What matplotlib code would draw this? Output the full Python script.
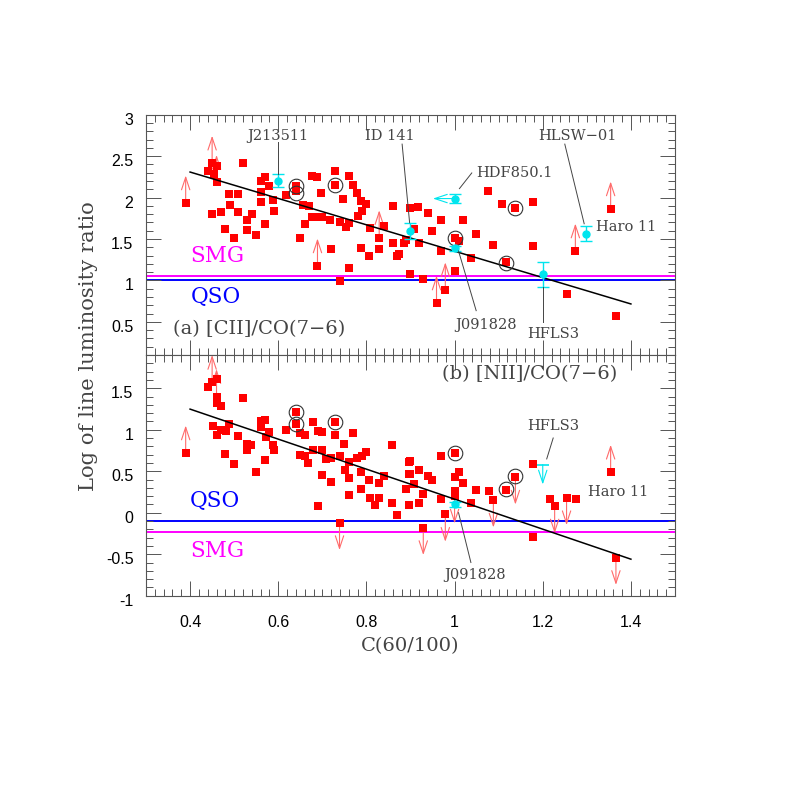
import numpy as np
import matplotlib
matplotlib.use('Agg')
import matplotlib.pyplot as plt
from matplotlib.ticker import MultipleLocator, FuncFormatter
from matplotlib.transforms import ScaledTranslation

plt.rcParams['axes.unicode_minus'] = False

# ---- panel (a) [CII]/CO(7-6): detections (red squares)
cii_x = [0.440, 0.460, 0.454, 0.519, 0.449, 0.470, 0.489, 0.508, 0.480, 0.500,
         0.490, 0.509, 0.528, 0.541, 0.530, 0.549, 0.569, 0.560, 0.569, 0.560,
         0.560, 0.588, 0.590, 0.578, 0.617, 0.640, 0.640, 0.649, 0.656, 0.660,
         0.669, 0.676, 0.687, 0.697, 0.676, 0.688, 0.700, 0.720, 0.729, 0.729,
         0.718, 0.739, 0.748, 0.760, 0.769, 0.778, 0.788, 0.800, 0.790, 0.781,
         0.760, 0.754, 0.760, 0.740, 0.788, 0.807, 0.809, 0.829, 0.840, 0.860,
         0.860, 0.869, 0.886, 0.899, 0.918, 0.939, 0.969, 1.018, 0.949, 0.909,
         0.889, 0.919, 0.875, 0.969, 1.000, 1.009, 1.037, 1.048, 1.088, 1.076,
         1.108, 1.138, 1.177, 1.177, 1.117, 0.899, 0.928, 1.000, 1.254, 1.366]
cii_y = [2.324, 2.376, 2.288, 2.412, 1.796, 1.824, 2.044, 2.044, 1.616, 1.516,
         1.916, 1.828, 1.724, 1.796, 1.604, 1.548, 1.684, 2.196, 2.244, 2.068,
         1.948, 1.976, 1.836, 2.136, 2.036, 2.144, 2.076, 1.508, 1.916, 1.684,
         1.896, 2.256, 2.244, 2.056, 1.760, 1.764, 1.760, 1.376, 2.324, 2.148,
         1.724, 1.708, 1.984, 2.256, 2.156, 2.056, 1.956, 1.924, 1.836, 1.776,
         1.696, 1.644, 1.156, 0.996, 1.396, 1.296, 1.628, 1.376, 1.656, 1.896,
         1.456, 1.296, 1.456, 1.876, 1.888, 1.816, 1.724, 1.724, 1.596, 1.616,
         1.488, 1.456, 1.316, 1.356, 1.516, 1.476, 1.268, 1.556, 1.428, 2.084,
         1.924, 1.876, 1.948, 1.416, 1.228, 1.076, 1.016, 1.108, 0.836, 0.576]
# lower limits (arrow up)
cii_lo_x = [0.390, 0.450, 0.460, 0.689, 0.829, 0.959, 0.979, 1.274, 1.354]
cii_lo_y = [1.936, 2.416, 2.184, 1.176, 1.516, 0.728, 0.888, 1.356, 1.864]
# circled sources
cii_circ_x = [0.640, 0.641, 0.729, 1.000, 1.138, 1.117]
cii_circ_y = [2.144, 2.056, 2.148, 1.516, 1.876, 1.216]
cii_fit_x = [0.4, 1.4]
cii_fit_y = [2.308, 0.716]
cii_smg, cii_qso = 1.052, 1.008

# ---- panel (b) [NII]/CO(7-6)
nii_x = [0.441, 0.460, 0.460, 0.470, 0.451, 0.460, 0.470, 0.481, 0.489, 0.479,
         0.499, 0.509, 0.519, 0.528, 0.539, 0.530, 0.549, 0.560, 0.569, 0.560,
         0.569, 0.579, 0.572, 0.588, 0.590, 0.618, 0.640, 0.640, 0.649, 0.660,
         0.649, 0.660, 0.667, 0.679, 0.679, 0.690, 0.700, 0.700, 0.700, 0.719,
         0.690, 0.709, 0.720, 0.729, 0.729, 0.739, 0.749, 0.751, 0.760, 0.760,
         0.760, 0.769, 0.779, 0.790, 0.800, 0.788, 0.788, 0.807, 0.809, 0.819,
         0.829, 0.829, 0.839, 0.858, 0.858, 0.869, 0.889, 0.896, 0.896, 0.896,
         0.899, 0.899, 0.909, 0.919, 0.919, 0.929, 0.939, 0.949, 0.969, 0.969,
         1.000, 1.000, 1.009, 1.018, 1.000, 1.037, 1.048, 1.077, 1.117, 1.177,
         1.177, 1.217, 1.275]
nii_y = [1.520, 1.608, 1.320, 1.288, 1.040, 0.940, 1.000, 0.980, 1.072, 0.712,
         0.592, 0.928, 1.380, 0.828, 0.820, 0.760, 0.488, 1.100, 1.120, 1.032,
         0.640, 0.968, 0.912, 0.820, 0.760, 0.992, 1.208, 1.072, 0.960, 0.940,
         0.700, 0.680, 0.600, 0.760, 1.088, 0.988, 0.968, 0.760, 0.460, 0.368,
         0.080, 0.648, 0.660, 1.088, 0.940, 0.688, 0.832, 0.520, 0.608, 0.420,
         0.208, 0.960, 0.660, 0.688, 0.728, 0.488, 0.280, 0.400, 0.180, 0.088,
         0.180, 0.352, 0.448, 0.820, 0.120, -0.028, 0.280, 0.608, 0.472, 0.088,
         0.620, 0.468, 0.340, 0.520, 0.112, 0.220, 0.448, 0.400, 0.680, 0.160,
         0.720, 0.428, 0.488, 0.352, 0.260, 0.112, 0.272, 0.260, 0.272, 0.592,
         -0.288, 0.160, 0.160]
nii_lo_x = [0.390, 0.450, 0.460, 1.354]
nii_lo_y = [0.720, 1.570, 1.400, 0.488]
# upper limits (arrow down)
nii_up_x = [0.739, 0.929, 0.979, 1.000, 1.088, 1.138, 1.227, 1.254, 1.366]
nii_up_y = [-0.120, -0.180, -0.020, 0.200, 0.152, 0.428, 0.080, 0.180, -0.540]
nii_circ_x = [0.640, 0.640, 0.729, 1.000, 1.117, 1.138]
nii_circ_y = [1.208, 1.072, 1.088, 0.720, 0.280, 0.440]
nii_fit_x = [0.4, 1.4]
nii_fit_y = [1.248, -0.560]
nii_smg, nii_qso = -0.232, -0.100

# ---- high-z sources (cyan)
hz_x = [0.600, 0.899, 1.000, 1.000, 1.200, 1.299]
hz_cii = [2.204, 1.596, 1.988, 1.388, 1.076, 1.564]
hz_cii_err = [0.076, 0.096, 0.050, 0.030, 0.150, 0.090]
j0918_nii, j0918_nii_err = 0.100, 0.030
hfls3_nii_lim = 0.580

red = '#ff0000'
arrow_col = '#ff6a6a'
txt_col = '#444444'
ax_col = '#555555'
serif = 'DejaVu Serif'
alen = 0.33

fig = plt.figure(figsize=(7.89, 7.89), dpi=100)
ax1 = fig.add_axes([0.18504, 0.55006, 0.67047, 0.30456])
ax2 = fig.add_axes([0.18504, 0.24499, 0.67047, 0.30507])


def arrow(ax, x, y, dy=0.0, dx=0.0, col=arrow_col):
    ax.annotate('', xy=(x + dx, y + dy), xytext=(x, y),
                arrowprops=dict(arrowstyle='->,head_length=0.9,head_width=0.3',
                                color=col, lw=0.8, shrinkA=0, shrinkB=0),
                zorder=2)


def label(ax, s, x, y, ha='center', line=None):
    ax.text(x, y, s, ha=ha, va='center', fontsize=10.5, family=serif,
            color=txt_col, zorder=6)
    if line is not None:
        ax.plot(line[0], line[1], color=txt_col, lw=0.7, zorder=6)


# panel (a)
ax = ax1
ax.axhline(cii_smg, color='#ff00ff', lw=1.4, zorder=1)
ax.axhline(cii_qso, color='#0000ff', lw=1.4, zorder=1)
ax.plot(cii_fit_x, cii_fit_y, color='black', lw=1.1, zorder=4)
for x, y in zip(cii_lo_x, cii_lo_y):
    arrow(ax, x, y, dy=alen)
ax.plot(cii_x + cii_lo_x, cii_y + cii_lo_y, 's', color=red, ms=6.2, mew=0, zorder=3)
ax.plot(cii_circ_x, cii_circ_y, 'o', mfc='none', mec='#333333', ms=10.5, mew=0.8, zorder=5)
ax.errorbar(hz_x, hz_cii, yerr=hz_cii_err, fmt='o', color='#00e5ee', ms=5,
            elinewidth=1.0, capsize=4.5, capthick=1.0, zorder=5)
arrow(ax, hz_x[2], hz_cii[2], dx=-0.049, col='#00e5ee')

label(ax, 'J213511', 0.60, 2.748, line=([0.60, 0.60], [2.676, 2.284]))
label(ax, 'ID 141', 0.853, 2.748, line=([0.881, 0.898], [2.645, 1.696]))
label(ax, 'HDF850.1', 1.05, 2.297, ha='left', line=([1.039, 1.011], [2.297, 2.108]))
label(ax, 'HLSW\u221201', 1.278, 2.748, line=([1.250, 1.294], [2.645, 1.684]))
label(ax, 'Haro 11', 1.320, 1.648, ha='left')
label(ax, 'J091828', 1.071, 0.467, line=([1.049, 1.009], [0.635, 1.355]))
label(ax, 'HFLS3', 1.224, 0.355, line=([1.2, 1.2], [0.496, 0.924]))
ax.text(0.361, 0.416, '(a) [CII]/CO(7\u22126)', ha='left', va='center',
        fontsize=14, family=serif, color=txt_col)
ax.text(0.461, 1.296, 'SMG', ha='center', va='center', fontsize=15.5,
        family=serif, color='#ff00ff')
ax.text(0.458, 0.796, 'QSO', ha='center', va='center', fontsize=15.5,
        family=serif, color='#0000ff')

# panel (b)
ax = ax2
ax.axhline(nii_qso, color='#0000ff', lw=1.4, zorder=1)
ax.axhline(nii_smg, color='#ff00ff', lw=1.4, zorder=1)
ax.plot(nii_fit_x, nii_fit_y, color='black', lw=1.1, zorder=4)
for x, y in zip(nii_lo_x, nii_lo_y):
    arrow(ax, x, y, dy=alen)
for x, y in zip(nii_up_x, nii_up_y):
    arrow(ax, x, y, dy=-alen)
ax.plot(nii_x + nii_lo_x + nii_up_x, nii_y + nii_lo_y + nii_up_y, 's',
        color=red, ms=6.2, mew=0, zorder=3)
ax.plot(nii_circ_x, nii_circ_y, 'o', mfc='none', mec='#333333', ms=10.5, mew=0.8, zorder=5)
ax.errorbar([hz_x[3]], [j0918_nii], yerr=[j0918_nii_err], fmt='o', color='#00e5ee',
            ms=5, elinewidth=1.0, capsize=4.5, capthick=1.0, zorder=5)
ax.plot([hz_x[4]], [hfls3_nii_lim], '_', color='#00e5ee', ms=9, mew=1.2, zorder=5)
arrow(ax, hz_x[4], hfls3_nii_lim, dy=-0.24, col='#00e5ee')

label(ax, 'HFLS3', 1.224, 1.048, line=([1.2237, 1.209], [0.90, 0.648]))
label(ax, 'Haro 11', 1.370, 0.248)
label(ax, 'J091828', 1.047, -0.752, line=([1.037, 1.009], [-0.60, 0.0]))
ax.text(1.1705, 1.672, '(b) [NII]/CO(7\u22126)', ha='center', va='center',
        fontsize=14, family=serif, color=txt_col)
ax.text(0.457, 0.14, 'QSO', ha='center', va='center', fontsize=15.5,
        family=serif, color='#0000ff')
ax.text(0.461, -0.46, 'SMG', ha='center', va='center', fontsize=15.5,
        family=serif, color='#ff00ff')

fmt = FuncFormatter(lambda v, p: '%g' % v)
ax1.set_ylim(0.1, 3.0)
ax2.set_ylim(-1.0, 1.9)
for ax in (ax1, ax2):
    ax.set_xlim(0.3, 1.5)
    ax.xaxis.set_major_locator(MultipleLocator(0.2))
    ax.xaxis.set_minor_locator(MultipleLocator(0.02))
    ax.yaxis.set_major_locator(MultipleLocator(0.5))
    ax.yaxis.set_minor_locator(MultipleLocator(0.1))
    ax.xaxis.set_major_formatter(fmt)
    ax.yaxis.set_major_formatter(fmt)
    ax.tick_params(which='both', direction='in', top=True, right=True,
                   color=ax_col, width=0.7)
    ax.tick_params(which='major', length=11, labelsize=11.5, pad=9)
    ax.tick_params(which='minor', length=5)
    for sp in ax.spines.values():
        sp.set_color(ax_col)
        sp.set_linewidth(0.8)
ax1.tick_params(axis='x', labelbottom=False)
ax1.set_yticks([0.5, 1, 1.5, 2, 2.5, 3])
ax2.set_yticks([-1, -0.5, 0, 0.5, 1, 1.5])
ax2.tick_params(axis='x', pad=14)
for ax in (ax1, ax2):
    for lab in ax.get_yticklabels():
        lab.set_family('Liberation Sans')
        lab.set_transform(lab.get_transform() + ScaledTranslation(0, -0.04, fig.dpi_scale_trans))
    for lab in ax.get_xticklabels():
        lab.set_family('Liberation Sans')

ax2.set_xlabel('C(60/100)', family=serif, fontsize=14, color=txt_col, labelpad=5)
fig.text(89 / 789, 1 - 346 / 789, 'Log of line luminosity ratio', rotation=90,
         ha='center', va='center', family=serif, fontsize=15.2, color=txt_col)

fig.savefig('out.png', dpi=100)
